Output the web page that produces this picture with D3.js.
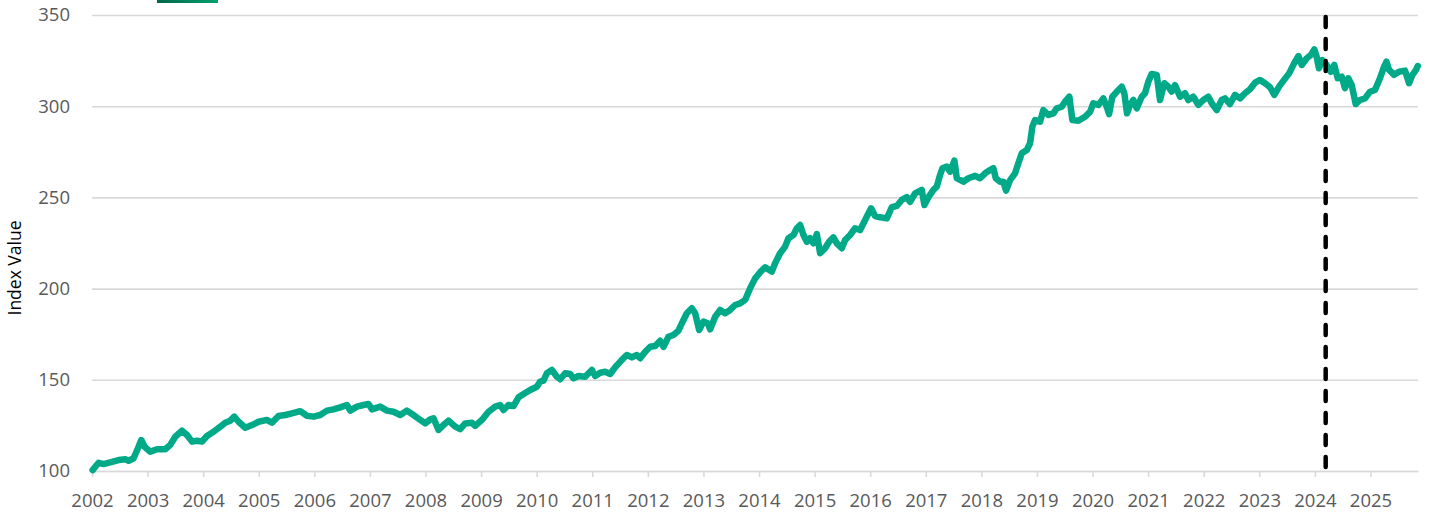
<!DOCTYPE html>
<html><head><meta charset="utf-8">
<script src="https://cdn.jsdelivr.net/npm/d3@7"></script>
<style>html,body{margin:0;padding:0;background:#fff;} svg{display:block;}</style>
</head><body><svg id="chart" width="1430" height="512"></svg>
<script>
// Decimal-year dates and index values
const dates = [
2002.011,2002.119,2002.209,2002.360,2002.478,2002.599,2002.658,2002.748,2002.838,2002.887,2002.946,
2003.049,2003.169,2003.318,2003.408,2003.498,2003.619,2003.709,2003.799,2003.888,2003.978,
2004.068,2004.187,2004.308,2004.397,2004.487,2004.559,2004.637,2004.757,2004.878,2004.996,
2005.147,2005.237,2005.356,2005.477,2005.597,2005.746,2005.866,2005.986,
2006.106,2006.227,2006.345,2006.466,2006.586,2006.646,2006.766,2006.885,2006.975,
2007.036,2007.185,2007.306,2007.424,2007.545,2007.665,2007.784,2007.905,2007.995,
2008.085,2008.144,2008.234,2008.324,2008.414,2008.534,2008.624,2008.714,2008.835,2008.894,
2009.014,2009.133,2009.254,2009.344,2009.403,2009.493,2009.583,2009.673,2009.793,2009.883,
2010.003,2010.063,2010.122,2010.183,2010.273,2010.363,2010.423,2010.513,2010.603,2010.662,2010.752,2010.872,2010.993,
2011.052,2011.142,2011.232,2011.322,2011.412,2011.532,2011.622,2011.712,2011.802,2011.862,2011.953,
2012.042,2012.132,2012.222,2012.281,2012.371,2012.460,2012.550,2012.612,2012.701,2012.791,2012.851,2012.923,
2013.000,2013.079,2013.121,2013.211,2013.301,2013.390,2013.480,2013.570,2013.660,2013.750,2013.840,2013.930,
2014.020,2014.110,2014.230,2014.289,2014.379,2014.469,2014.529,2014.619,2014.680,2014.739,2014.799,2014.860,2014.919,2014.978,
2015.040,2015.099,2015.189,2015.261,2015.338,2015.399,2015.489,2015.549,2015.638,2015.728,2015.818,2015.908,
2016.016,2016.088,2016.178,2016.299,2016.388,2016.478,2016.568,2016.658,2016.718,2016.808,2016.928,2016.975,
2017.047,2017.137,2017.198,2017.257,2017.299,2017.378,2017.437,2017.514,2017.558,2017.676,2017.766,2017.887,2017.976,
2018.067,2018.156,2018.216,2018.259,2018.336,2018.396,2018.444,2018.516,2018.606,2018.665,2018.727,2018.817,2018.876,2018.917,2018.966,
2019.056,2019.115,2019.205,2019.295,2019.356,2019.446,2019.505,2019.583,2019.637,2019.745,2019.865,2019.955,
2020.014,2020.104,2020.194,2020.255,2020.297,2020.356,2020.435,2020.525,2020.572,2020.620,2020.674,2020.734,2020.795,2020.885,2020.944,
2021.004,2021.065,2021.155,2021.214,2021.291,2021.363,2021.424,2021.484,2021.574,2021.664,2021.723,2021.813,2021.903,2021.993,
2022.083,2022.144,2022.234,2022.324,2022.383,2022.473,2022.563,2022.653,2022.743,2022.833,2022.923,
2023.013,2023.103,2023.193,2023.270,2023.356,2023.446,2023.536,2023.626,2023.705,2023.763,2023.853,2023.930,2023.989,
2024.031,2024.073,2024.133,2024.212,2024.286,2024.349,2024.410,2024.482,2024.541,2024.601,2024.662,2024.734,2024.811,2024.901,2024.991,
2025.081,2025.171,2025.245,2025.288,2025.335,2025.425,2025.514,2025.622,2025.694,2025.755,2025.820,2025.850
];
const indexValues = [
100.5,104.5,103.8,105,106,106.4,105.6,107,113.3,117,113.3,
110.6,111.9,111.9,114.3,118.8,122.1,119.7,116.1,116.6,116.1,
119.2,121.5,124.3,126.5,127.6,129.8,127,123.7,125.2,127,
128,126.5,130.2,130.7,131.6,132.8,130.3,129.8,
130.7,133.1,133.8,134.9,136.2,133.1,135.3,136.2,136.7,
133.8,135.3,133.1,132.5,130.7,133.1,130.7,128,126.1,
128.3,128.9,122.5,125.2,127.6,124.3,122.9,126.1,126.5,124.7,
128,132.5,135.3,136.2,133.4,136.2,135.6,140.4,142.7,144.4,
146.2,149,149.5,153.6,155.4,151.7,150.3,153.6,153.2,150.8,152.1,151.7,155.4,
152.1,153.9,154.4,153.2,156.9,160.9,163.6,162.3,163.6,161.8,165.4,
168.1,168.5,171.4,168.1,173.6,174.6,176.9,181,186.5,189.2,186.5,177.3,
181.9,181,177.7,184.6,188.3,186.5,188.3,191,191.9,193.8,200.2,205.6,
209,211.7,209.3,213.9,219.4,223,227.6,229.4,233.1,234.9,229.4,225.7,227.6,224.8,
229.9,219.4,222.1,225.7,228.1,224.8,222.1,226.6,229.4,233.1,232.1,237.6,
244,239.8,239.1,238.5,244.6,245.3,248.6,250.1,247.6,252.2,254.1,245.8,
250.1,254.1,255.9,262.3,266,266.9,264.1,270.2,260.5,258.6,260.5,261.8,260.5,
263.2,265,266,260.5,258.6,258.6,253.7,259.5,263.2,268.7,274.2,276,279.7,288.8,292.4,
291.5,297.9,295.2,296.1,298.8,299.7,302.5,305.2,292.4,292,294.2,296.9,
301.6,300.7,304.3,299.7,295.7,305.2,307.9,310.7,307.1,296.1,300.7,303.4,298.8,305.2,307.1,
313.5,317.7,317.2,303.4,312.6,310.7,308,311.6,305.2,307.1,303.4,305.2,300.7,303.4,
305.2,301.6,297.9,303.4,304.3,301.2,306.2,304.3,307.1,309.3,312.9,
314.4,312.6,310.4,306.2,310.7,314.4,318,323.5,327.5,322.6,326.3,328.1,331.2,
327.2,320.8,325.3,322.6,318.9,322.6,315.3,316.2,309.9,315.3,311.6,301.2,303.4,304.3,307.9,
308.9,315.3,321.7,324.4,319.9,317.2,318.9,319.5,312.6,317.2,319.9,322
];
const yTickValues = [100, 150, 200, 250, 300, 350];
const xTickYears = [2002,2003,2004,2005,2006,2007,2008,2009,2010,2011,2012,2013,2014,2015,2016,2017,2018,2019,2020,2021,2022,2023,2024,2025];
const xDomain = [2002, 2025.855];
const yDomain = [100, 350];
const markerDate = 2024.194;
const yAxisTitle = "Index Value";

(function () {
const svg = d3.select("#chart");
const pL = 92, pR = 1418, pT = 15, pB = 471;
const x = d3.scaleLinear().domain(xDomain).range([pL, pR]);
const y = d3.scaleLinear().domain(yDomain).range([pB, pT]);

const font = "'Open Sans', sans-serif";

// legend swatch (cut off at top in reference)
const defs = svg.append("defs");
const grad = defs.append("linearGradient").attr("id", "lg");
grad.append("stop").attr("offset", "0%").attr("stop-color", "#00674b");
grad.append("stop").attr("offset", "100%").attr("stop-color", "#00a06c");
svg.append("rect").attr("x", 157).attr("y", -4).attr("width", 61).attr("height", 7).attr("fill", "url(#lg)");

// y axis + gridlines
const yAxis = d3.axisLeft(y).tickValues(yTickValues).tickSize(-(pR - pL)).tickPadding(22);
const gy = svg.append("g").attr("transform", `translate(${pL},0)`).call(yAxis);
gy.select(".domain").remove();
gy.selectAll(".tick line").attr("stroke", "#d9d9d9").attr("stroke-width", 1.6);
gy.selectAll(".tick text").attr("fill", "#595959").style("font-family", font).style("font-size", "18.5px");

// x axis
const xAxis = d3.axisBottom(x).tickValues(xTickYears).tickFormat(d3.format("d")).tickSize(6).tickSizeOuter(0);
const gx = svg.append("g").attr("transform", `translate(0,${pB})`).call(xAxis);
gx.select(".domain").attr("stroke", "#d9d9d9").attr("stroke-width", 1.6);
gx.selectAll(".tick line").attr("stroke", "#d9d9d9").attr("stroke-width", 1.6);
gx.selectAll(".tick text").attr("fill", "#595959").attr("y", 35.5).attr("dy", 0)
  .style("font-family", font).style("font-size", "18.5px");

// y axis title
svg.append("text").attr("transform", `translate(21,${(pT + pB) / 2 + 25}) rotate(-90)`)
  .attr("text-anchor", "middle").style("font-family", font).style("font-size", "17.5px").attr("fill", "#000")
  .text(yAxisTitle);

// series line
const data = dates.map((d, i) => ({t: d, v: indexValues[i]}));
const line = d3.line().x(d => x(d.t)).y(d => y(d.v));
svg.append("path").datum(data).attr("d", line).attr("fill", "none")
  .attr("stroke", "#00aa88").attr("stroke-width", 6.5).attr("stroke-linejoin", "round").attr("stroke-linecap", "round");

// vertical dashed marker
svg.append("line").attr("x1", x(markerDate)).attr("x2", x(markerDate)).attr("y1", y(350) + 2).attr("y2", y(100))
  .attr("stroke", "#000").attr("stroke-width", 4.5).attr("stroke-dasharray", "10,12").attr("stroke-linecap", "round");
})();
</script></body></html>
